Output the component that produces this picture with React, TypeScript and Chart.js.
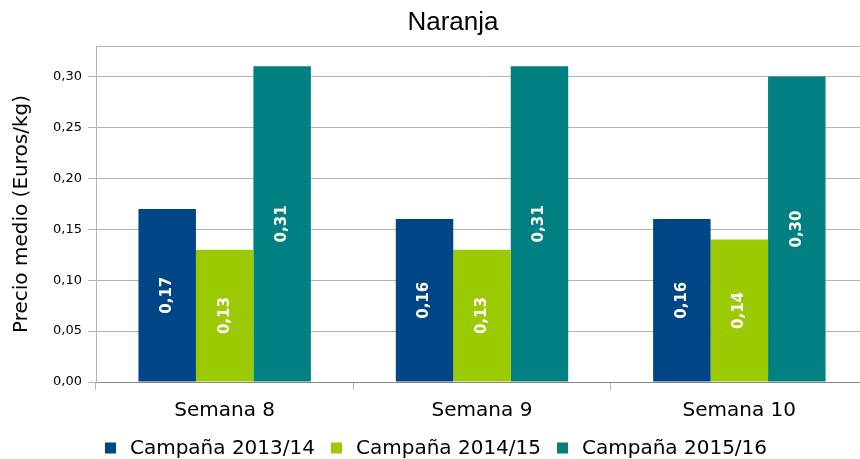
import React, { useEffect, useRef } from "react";
import { Chart, registerables } from "chart.js";

Chart.register(...registerables);

const titleText = "Naranja";
const categories = ["Semana 8", "Semana 9", "Semana 10"];
const seriesNames = ["Campaña 2013/14", "Campaña 2014/15", "Campaña 2015/16"];
const values2013 = [0.17, 0.16, 0.16];
const values2014 = [0.13, 0.13, 0.14];
const values2015 = [0.31, 0.31, 0.3];
const colors = ["#004586", "#9bc902", "#008080"];
const yTicks = [0, 0.05, 0.1, 0.15, 0.2, 0.25, 0.3, 0.33];
const yMax = 0.33;

const FONT = "'DejaVu Sans', sans-serif";

const fmt = (v: number) => v.toFixed(2).replace(".", ",");

const valueLabels = {
  id: "valueLabels",
  afterDatasetsDraw(chart: any) {
    const ctx = chart.ctx;
    chart.data.datasets.forEach((ds: any, i: number) => {
      const meta = chart.getDatasetMeta(i);
      meta.data.forEach((el: any, j: number) => {
        const cy = (el.y + el.base) / 2;
        ctx.save();
        ctx.translate(el.x, cy);
        ctx.rotate(-Math.PI / 2);
        ctx.fillStyle = "#ffffff";
        ctx.font = `bold 15px ${FONT}`;
        ctx.textAlign = "center";
        ctx.textBaseline = "middle";
        ctx.fillText(fmt(ds.data[j]), 0, 0);
        ctx.restore();
      });
    });
  },
};

const titleAndLegend = {
  id: "titleAndLegend",
  afterDraw(chart: any) {
    const ctx = chart.ctx;
    ctx.save();
    // title
    ctx.fillStyle = "#000";
    ctx.font = `26px 'Liberation Sans', Arial, sans-serif`;
    ctx.textAlign = "center";
    ctx.textBaseline = "middle";
    ctx.fillText(titleText, 453, 23);
    // legend
    ctx.font = `20px ${FONT}`;
    ctx.textAlign = "left";
    const box = 11;
    const gapText = 14;
    const gapItem = 16;
    const widths = seriesNames.map((n) => ctx.measureText(n).width);
    const total = widths.reduce((a, w) => a + box + gapText + w, 0) + gapItem * (seriesNames.length - 1);
    let x = 436 - total / 2;
    const cy = 448;
    seriesNames.forEach((n, i) => {
      ctx.fillStyle = colors[i];
      ctx.fillRect(x, cy - box / 2, box, box);
      ctx.fillStyle = "#000";
      ctx.fillText(n, x + box + gapText, cy + 1);
      x += box + gapText + widths[i] + gapItem;
    });
    ctx.restore();
  },
};

export default function App() {
  const ref = useRef<HTMLCanvasElement>(null);
  useEffect(() => {
    if (!ref.current) return;
    const chart = new Chart(ref.current, {
      type: "bar",
      data: {
        labels: categories,
        datasets: [values2013, values2014, values2015].map((d, i) => ({
          label: seriesNames[i],
          data: d,
          backgroundColor: colors[i],
          borderWidth: 0,
          categoryPercentage: 0.67,
          barPercentage: 1,
        })),
      },
      options: {
        animation: false,
        responsive: false,
        maintainAspectRatio: false,
        layout: { padding: { left: 0, right: 34, top: 46, bottom: 0 } },
        plugins: {
          title: { display: false },
          legend: { display: false },
          tooltip: { enabled: false },
        },
        scales: {
          x: {
            offset: true,
            grid: { display: true, drawOnChartArea: false, offset: true, tickLength: 8, color: "#b3b3b3" },
            border: { color: "#888888" },
            ticks: { color: "#000", font: { family: FONT, size: 20 }, padding: 9 },
            afterFit: (s: any) => {
              s.height = 77;
            },
          },
          y: {
            min: 0,
            max: yMax,
            afterBuildTicks: (s: any) => {
              s.ticks = yTicks.map((v) => ({ value: v }));
            },
            grid: {
              color: "#b3b3b3",
              tickLength: 8,
              tickColor: (c: any) => (c.tick && c.tick.value > 0.31 ? "rgba(0,0,0,0)" : "#b3b3b3"),
            },
            border: { color: "#b3b3b3" },
            ticks: {
              color: "#000",
              font: { family: FONT, size: 13 },
              padding: 6,
              callback: (v: any) => (v > 0.31 ? "" : fmt(Number(v))),
            },
            title: {
              display: true,
              text: "Precio medio (Euros/kg)",
              color: "#000",
              font: { family: FONT, size: 20 },
              padding: { top: 10, bottom: 4 },
            },
            afterFit: (s: any) => {
              s.width = 96;
            },
          },
        },
      },
      plugins: [valueLabels, titleAndLegend],
    });
    return () => chart.destroy();
  }, []);
  return (
    <div style={{ position: "fixed", left: 0, top: 0, width: "100vw", height: 459, overflow: "hidden", background: "#fff" }}>
      <div style={{ position: "absolute", left: 0, top: 0, width: 902, height: 459 }}>
        <canvas ref={ref} width={902} height={459} style={{ width: 902, height: 459, display: "block" }} />
      </div>
    </div>
  );
}
